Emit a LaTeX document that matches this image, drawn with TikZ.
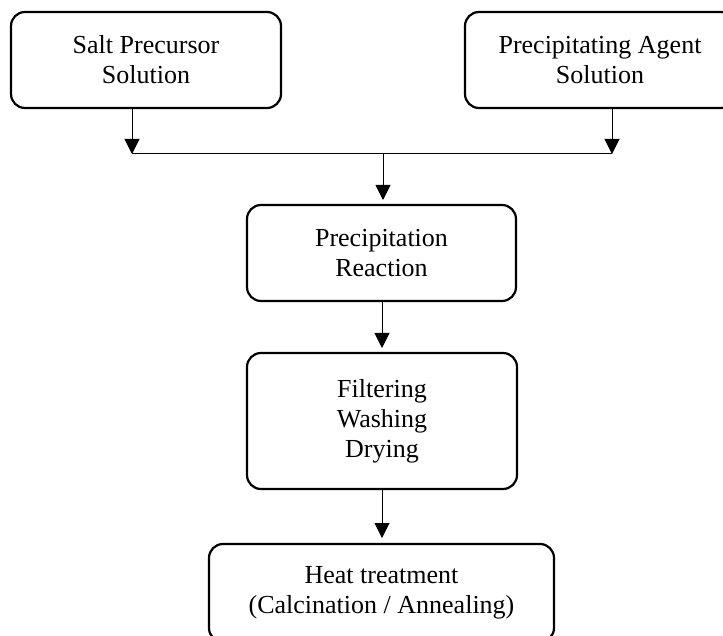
\documentclass[tikz,border=0pt]{standalone}
\usepackage{fontspec}
\setmainfont{Liberation Serif}
\usetikzlibrary{arrows.meta}
\begin{document}
\begin{tikzpicture}[x=1pt,y=-1pt,
  stage/.style={draw, line width=2.2pt, rounded corners=14pt, align=center,
    inner sep=0pt, font=\fontsize{26}{30}\selectfont},
  flow/.style={line width=1pt, -{Triangle[length=15pt,width=15pt]}},
  link/.style={line width=1pt}]
\path[use as bounding box, clip] (0,0) rectangle (723,636);
\node[stage, minimum width=270pt, minimum height=96pt] (salt) at (146,60) {Salt Precursor\\Solution};
\node[stage, minimum width=270pt, minimum height=96pt] (agent) at (600,60) {Precipitating Agent\\Solution};
\node[stage, minimum width=269pt, minimum height=96pt] (prec) at (381.5,253) {Precipitation\\Reaction};
\node[stage, minimum width=270pt, minimum height=136pt] (filt) at (382,421) {Filtering\\Washing\\Drying};
\node[stage, minimum width=345pt, minimum height=98pt] (heat) at (381.5,593) {Heat treatment\\(Calcination / Annealing)};
\coordinate (j1) at (132,154);
\coordinate (j2) at (612,154);
\coordinate (j3) at (383,154);
\coordinate (t1) at (383,200);
\coordinate (t2) at (382,348);
\coordinate (t3) at (382,538);
\draw[flow] (j1 |- salt.south) -- (j1);
\draw[flow] (j2 |- agent.south) -- (j2);
\draw[link] (j1) -- (j2);
\draw[flow] (j3) -- (t1);
\draw[flow] (t2 |- prec.south) -- (t2);
\draw[flow] (t3 |- filt.south) -- (t3);
\end{tikzpicture}
\end{document}
